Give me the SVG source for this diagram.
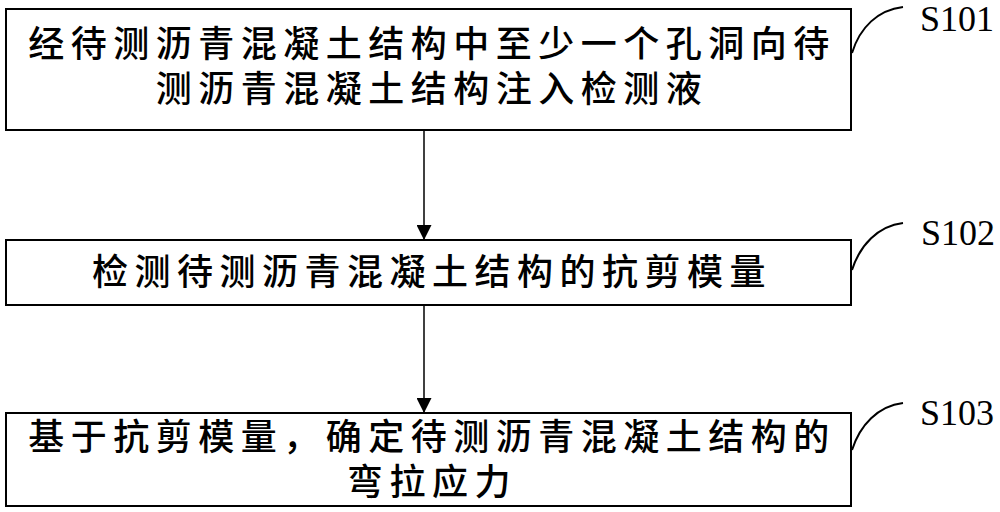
<svg xmlns="http://www.w3.org/2000/svg" width="1000" height="512" viewBox="0 0 1000 512">
<style>
.box{fill:#fff;stroke:#000;stroke-width:2}
.t{font-family:"Noto Sans CJK SC",sans-serif;font-size:36px;font-weight:500;letter-spacing:6.5px;text-anchor:middle;fill:#000}
.lbl{font-family:"Liberation Serif",serif;font-size:36px;fill:#000}
.cur{fill:none;stroke:#000;stroke-width:2}
.con{stroke:#000;stroke-width:1.5;fill:none}
</style>
<defs>
<marker id="ah" markerWidth="16" markerHeight="15" refX="15" refY="7.5" orient="auto" markerUnits="userSpaceOnUse">
<path d="M0,0 L15,7.5 L0,15 Z" fill="#000"/>
</marker>
</defs>
<rect width="1000" height="512" fill="#fff"/>
<g id="connectors">
<line class="con" x1="424" y1="130" x2="424" y2="240" marker-end="url(#ah)"/>
<line class="con" x1="424" y1="305" x2="424" y2="413" marker-end="url(#ah)"/>
</g>
<g id="s101">
<rect class="box" x="6" y="9" width="845" height="121"/>
<text class="t" x="432" y="57">经待测沥青混凝土结构中至少一个孔洞向待</text>
<text class="t" x="432" y="102">测沥青混凝土结构注入检测液</text>
<path class="cur" d="M852,53 C860,27 878,10 903,7"/>
<text class="lbl" x="920" y="31">S101</text>
</g>
<g id="s102">
<rect class="box" x="6" y="240" width="845" height="65"/>
<text class="t" x="432" y="285">检测待测沥青混凝土结构的抗剪模量</text>
<path class="cur" d="M852,270 C860,245 878,226 903,223"/>
<text class="lbl" x="921" y="245">S102</text>
</g>
<g id="s103">
<rect class="box" x="6" y="413" width="845" height="93"/>
<text class="t" x="432" y="450">基于抗剪模量，确定待测沥青混凝土结构的</text>
<text class="t" x="432" y="495">弯拉应力</text>
<path class="cur" d="M852,450 C860,425 878,406 903,403"/>
<text class="lbl" x="920" y="425">S103</text>
</g>
</svg>
